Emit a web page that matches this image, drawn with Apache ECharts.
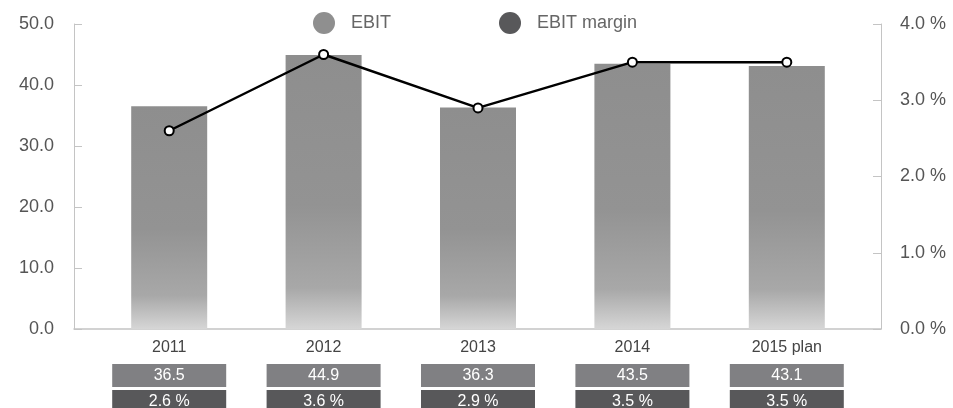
<!DOCTYPE html>
<html>
<head>
<meta charset="utf-8">
<script src="https://cdn.jsdelivr.net/npm/echarts@6/dist/echarts.min.js"></script>
<style>
  html, body { margin: 0; padding: 0; background: #fff; }
  #chart { width: 953px; height: 408px; }
</style>
</head>
<body>
<div id="chart"></div>
<script>
// chart data
var years = ['2011', '2012', '2013', '2014', '2015 plan'];
var ebit = [36.5, 44.9, 36.3, 43.5, 43.1];
var ebitMargin = [2.6, 3.6, 2.9, 3.5, 3.5];
var leftTicks = { min: 0, max: 50, interval: 10 };
var rightTicks = { min: 0, max: 4, interval: 1 };

var font = 'Liberation Sans, Arial, sans-serif';
var axisGray = '#c4c4c4';

var chart = echarts.init(document.getElementById('chart'));

function boxLabel(values, fmt, bg) {
  return {
    interval: 0,
    margin: 0,
    formatter: function (v, i) { return fmt(values[i]); },
    color: '#fff',
    fontSize: 16,
    fontFamily: font,
    backgroundColor: bg,
    width: 114,
    height: 23,
    lineHeight: 23,
    align: 'center',
    verticalAlign: 'top'
  };
}

chart.setOption({
  animation: false,
  textStyle: { fontFamily: font },
  legend: {
    top: 7,
    left: 308,
    icon: 'circle',
    itemWidth: 22,
    itemHeight: 22,
    itemGap: 108,
    textStyle: { fontSize: 18, color: '#666', fontFamily: font, padding: [0, 0, 0, 11] },
    data: [
      { name: 'EBIT', itemStyle: { color: '#8f8f8f' } },
      { name: 'EBIT margin', itemStyle: { color: '#58585a', borderWidth: 0 }, lineStyle: { opacity: 0 } }
    ]
  },
  grid: [
    { left: 74, right: 72, top: 24, bottom: 79, outerBoundsMode: 'none' },
    { left: 92, right: 89, top: 24, bottom: 79, outerBoundsMode: 'none' }
  ],
  xAxis: [
    {
      gridIndex: 0, type: 'value', min: 0, max: 1, position: 'bottom',
      axisLine: { show: true, lineStyle: { color: axisGray, width: 1.5 } },
      axisTick: { show: false }, axisLabel: { show: false }, splitLine: { show: false }
    },
    {
      gridIndex: 1, type: 'category', data: years, position: 'bottom',
      axisLine: { show: false }, axisTick: { show: false },
      axisLabel: { interval: 0, margin: 11, color: '#444', fontSize: 16, fontFamily: font, lineHeight: 16 }
    },
    {
      gridIndex: 1, type: 'category', data: years, offset: 35, position: 'bottom',
      axisLine: { show: false }, axisTick: { show: false },
      axisLabel: boxLabel(ebit, function (v) { return v.toFixed(1); }, '#808083')
    },
    {
      gridIndex: 1, type: 'category', data: years, offset: 61, position: 'bottom',
      axisLine: { show: false }, axisTick: { show: false },
      axisLabel: boxLabel(ebitMargin, function (v) { return v.toFixed(1) + ' %'; }, '#58585a')
    }
  ],
  yAxis: [
    {
      gridIndex: 0, type: 'value', position: 'left',
      min: leftTicks.min, max: leftTicks.max, interval: leftTicks.interval,
      axisLine: { show: true, lineStyle: { color: axisGray } },
      axisTick: { show: true, inside: true, length: 8, lineStyle: { color: axisGray } },
      splitLine: { show: false },
      axisLabel: { margin: 20, color: '#555', fontSize: 18, fontFamily: font,
        formatter: function (v) { return v.toFixed(1); } }
    },
    {
      gridIndex: 0, type: 'value', position: 'right',
      min: rightTicks.min, max: rightTicks.max, interval: rightTicks.interval,
      axisLine: { show: true, lineStyle: { color: axisGray } },
      axisTick: { show: true, inside: true, length: 8, lineStyle: { color: axisGray } },
      splitLine: { show: false },
      axisLabel: { margin: 19, color: '#555', fontSize: 18, fontFamily: font,
        formatter: function (v) { return v.toFixed(1) + ' %'; } }
    },
    {
      gridIndex: 1, type: 'value', position: 'left', min: leftTicks.min, max: leftTicks.max, show: false
    },
    {
      gridIndex: 1, type: 'value', position: 'right', min: rightTicks.min, max: rightTicks.max, show: false
    }
  ],
  series: [
    {
      name: 'EBIT',
      type: 'bar',
      xAxisIndex: 1,
      yAxisIndex: 2,
      barWidth: 76,
      data: ebit,
      itemStyle: {
        color: new echarts.graphic.LinearGradient(0, 0, 0, 1, [
          { offset: 0, color: '#8e8e8e' },
          { offset: 0.55, color: '#939393' },
          { offset: 0.85, color: '#a8a8a8' },
          { offset: 1, color: '#d6d6d6' }
        ])
      }
    },
    {
      name: 'EBIT margin',
      type: 'line',
      xAxisIndex: 1,
      yAxisIndex: 3,
      data: ebitMargin,
      symbol: 'circle',
      symbolSize: 9,
      lineStyle: { color: '#000', width: 2.5 },
      itemStyle: { color: '#fff', borderColor: '#000', borderWidth: 2 }
    }
  ]
});
</script>
</body>
</html>
